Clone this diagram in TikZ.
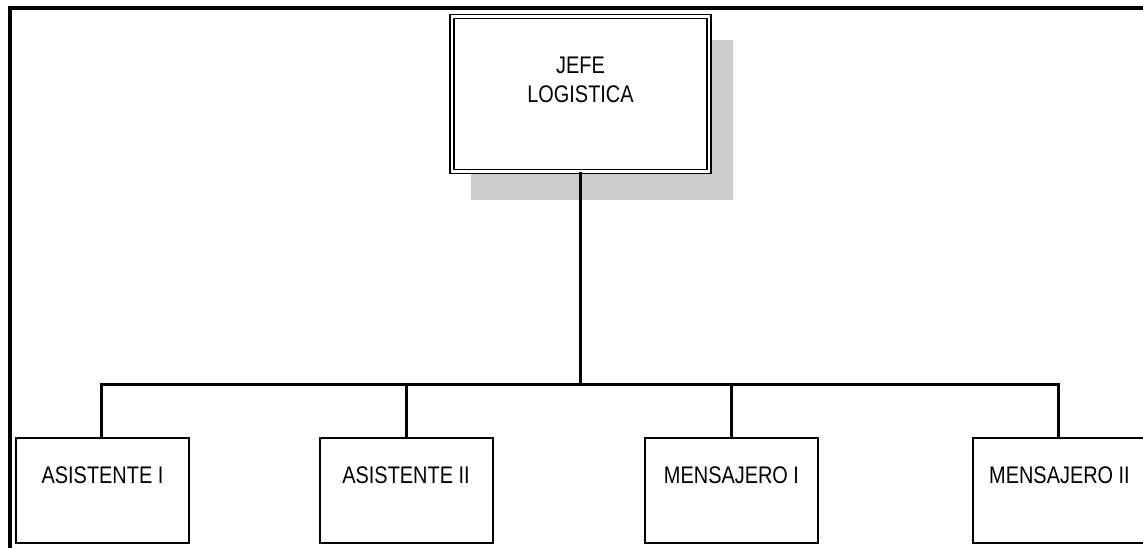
\documentclass[tikz,border=0pt]{standalone}
\usepackage{fontspec}
\newfontfamily\orgfont{Liberation Sans}[FakeStretch=0.83]
\usetikzlibrary{calc}
\definecolor{shadowgray}{gray}{0.8}
\tikzset{
  frameline/.style={line width=4pt, line cap=rect},
  headbox/.style={draw=black, double, line width=1.5pt, double distance=2.5pt,
    minimum width=257pt, minimum height=155pt, inner sep=0pt},
  subbox/.style={draw=black, line width=2pt, minimum width=173pt,
    minimum height=105pt, inner sep=0pt},
  boxtext/.style={font=\orgfont\fontsize{24}{29}\selectfont, align=center,
    inner sep=0pt, anchor=base},
  link/.style={line width=3pt}
}
\begin{document}
\begin{tikzpicture}[x=1pt, y=-1pt]
  \clip (0,0) rectangle (1143,548);
  \fill[white] (0,0) rectangle (1143,548);

  % outer frame: left and top edges only
  \coordinate (fbl) at (10,560);
  \coordinate (ftl) at (10,8);
  \coordinate (ftr) at (1160,8);
  \draw[frameline] (fbl) -- (ftl) -- (ftr);

  % drop shadow behind the head box
  \fill[shadowgray] (471,40) rectangle (733,200);

  % head of the unit (base anchor sits on the last text line)
  \node[headbox, fill=white] (jefe) at (580.5,94) {};
  \node[boxtext] (jefet) at ([yshift=-86.5pt]jefe.north) {JEFE\\LOGISTICA};

  % subordinate positions
  \node[subbox] (a1) at (102.5,490.5) {};
  \node[subbox] (a2) at (406,490.5) {};
  \node[subbox] (m1) at (731.5,490.5) {};
  \node[subbox] (m2) at (1059.5,490.5) {};

  \node[boxtext] (a1t) at ([yshift=-46pt]a1.north) {ASISTENTE I};
  \node[boxtext] (a2t) at ([yshift=-46pt]a2.north) {ASISTENTE II};
  \node[boxtext] (m1t) at ([yshift=-46pt]m1.north) {MENSAJERO I};
  \node[boxtext] (m2t) at ([yshift=-46pt]m2.north) {MENSAJERO II};

  % connectors
  \coordinate (bus) at (580,384);
  \draw[link] (jefe.south -| bus) -- (bus);
  \draw[link] (bus) -| ([xshift=-1.5pt]a1.north);
  \draw[link] (bus) -| (a2.north);
  \draw[link] (bus) -| ([xshift=-0.5pt]m1.north);
  \draw[link] (bus) -| ([xshift=-1.5pt]m2.north);
\end{tikzpicture}
\end{document}
